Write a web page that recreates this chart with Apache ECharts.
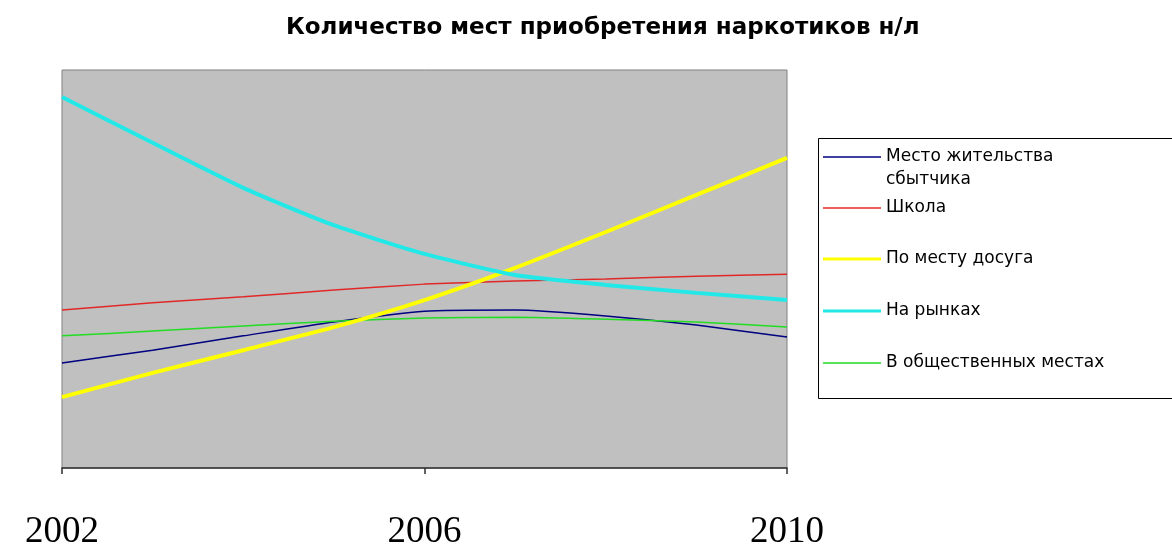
<!DOCTYPE html>
<html>
<head>
<meta charset="utf-8">
<script src="https://cdn.jsdelivr.net/npm/echarts@6/dist/echarts.min.js"></script>
<style>
html,body{margin:0;padding:0;background:#fff;}
#chart{width:1172px;height:551px;}
</style>
</head>
<body>
<div id="chart"></div>
<script>
const titleText = 'Количество мест приобретения наркотиков н/л';
const years = ['2002','2003','2004','2005','2006','2007','2008','2009','2010'];
const seriesNames = ['Место жительства сбытчика','Школа','По месту досуга','На рынках','В общественных местах'];
const residence = [26.4, 29.6, 33.2, 36.7, 39.4, 39.7, 38.2, 35.9, 32.9];
const school    = [39.7, 41.5, 43.0, 44.7, 46.2, 47.0, 47.5, 48.2, 48.7];
const leisure   = [17.8, 23.9, 29.6, 35.4, 42.2, 50.3, 59.3, 68.6, 77.9];
const markets   = [93.2, 81.7, 70.4, 61.0, 53.8, 48.5, 46.0, 44.0, 42.2];
const publicPl  = [33.2, 34.4, 35.7, 36.9, 37.7, 37.9, 37.4, 36.7, 35.4];
const seriesData = [residence, school, leisure, markets, publicPl];
const colors = ['#000080', '#e02828', '#ffff00', '#22e8e8', '#22dd22'];
const widths = [1.5, 1.5, 4, 4, 1.5];
const legendWidths = [1.5, 1.5, 3, 3, 1.5];
const legendCenters = [157, 208, 259, 311, 363];

const chart = echarts.init(document.getElementById('chart'), null, {renderer: 'canvas'});

const legendFont = {fontFamily: 'DejaVu Sans', fontSize: 17, color: '#000', lineHeight: 23};

const legends = seriesNames.map((name, i) => ({
  orient: 'vertical',
  left: 823,
  top: i === 0 ? legendCenters[i] - 34.5 : legendCenters[i] - 11.5,
  padding: 0,
  itemWidth: 58,
  itemHeight: legendWidths[i],
  itemGap: 0,
  selectedMode: false,
  icon: 'rect',
  data: [name],
  formatter: n => n === seriesNames[0] ? '\nМесто жительства\nсбытчика' : n,
  textStyle: legendFont
}));

chart.setOption({
  animation: false,
  backgroundColor: '#ffffff',
  title: {
    text: titleText,
    left: 286,
    top: 17,
    padding: 0,
    textStyle: {fontFamily: 'DejaVu Sans', fontWeight: 'bold', fontSize: 23, color: '#000'}
  },
  graphic: [{
    type: 'rect',
    shape: {x: 818.5, y: 138.5, width: 420, height: 260},
    style: {fill: '#ffffff', stroke: '#000000', lineWidth: 1},
    z: -1
  }],
  legend: legends,
  grid: {
    left: 62, right: 385, top: 70, bottom: 83,
    show: true, backgroundColor: '#c0c0c0', borderColor: '#808080', borderWidth: 1
  },
  xAxis: {
    type: 'category',
    data: years,
    boundaryGap: false,
    axisLine: {lineStyle: {color: '#303030', width: 1.5}},
    axisTick: {interval: 3, length: 6, lineStyle: {color: '#303030', width: 1.5}},
    axisLabel: {interval: 3, margin: 46, fontFamily: 'Liberation Serif', fontSize: 37, color: '#000'},
    splitLine: {show: false}
  },
  yAxis: {
    type: 'value', min: 0, max: 100, show: false, splitLine: {show: false}
  },
  series: seriesNames.map((name, i) => ({
    name: name,
    type: 'line',
    data: seriesData[i],
    smooth: 0.2,
    symbol: 'none',
    lineStyle: {color: colors[i], width: widths[i]},
    itemStyle: {color: colors[i]},
    z: i === 2 || i === 3 ? 3 : 2
  }))
});
</script>
</body>
</html>
